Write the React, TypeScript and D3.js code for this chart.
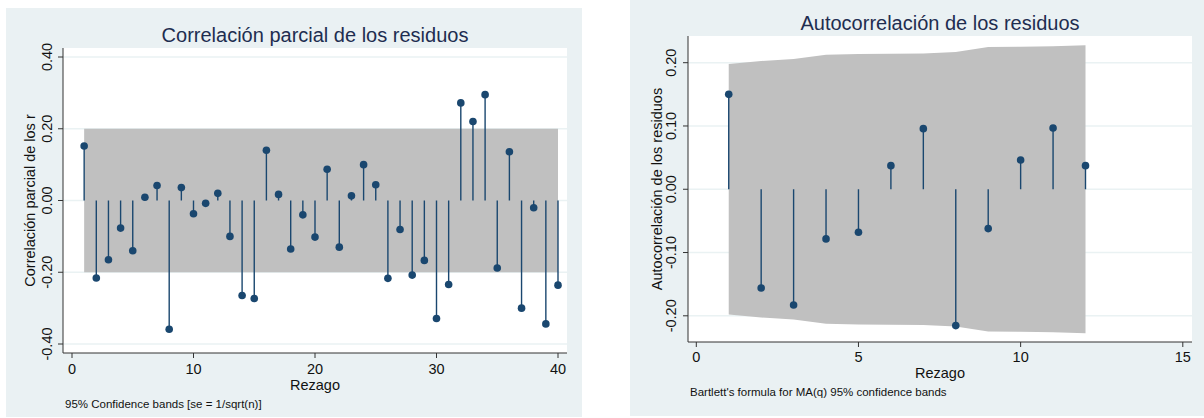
import React from "react";
import * as d3 from "d3";

// PACF of residuals, lags 1..40
const pacfLags = d3.range(1, 41);
const pacfValues = [
  0.152, -0.216, -0.165, -0.077, -0.14, 0.009, 0.042, -0.359, 0.036, -0.037,
  -0.008, 0.02, -0.1, -0.265, -0.273, 0.14, 0.017, -0.135, -0.04, -0.102,
  0.087, -0.13, 0.013, 0.1, 0.044, -0.217, -0.081, -0.208, -0.167, -0.329,
  -0.234, 0.272, 0.22, 0.295, -0.188, 0.136, -0.3, -0.02, -0.344, -0.236,
];
const pacfBand = 0.2;

// ACF of residuals, lags 1..12 with Bartlett bands
const acfLags = d3.range(1, 13);
const acfValues = [
  0.15, -0.156, -0.183, -0.0785, -0.068, 0.0373, 0.0958, -0.2155, -0.0622,
  0.0463, 0.0968, 0.0373,
];
const acfBand = [
  0.198, 0.2027, 0.206, 0.2127, 0.2137, 0.2142, 0.2147, 0.2169, 0.2248,
  0.2253, 0.226, 0.2275,
];

const pacfYTicks = [-0.4, -0.2, 0, 0.2, 0.4];
const pacfXTicks = [0, 10, 20, 30, 40];
const acfYTicks = [-0.2, -0.1, 0, 0.1, 0.2];
const acfXTicks = [0, 5, 10, 15];

const FONT = "'Liberation Sans', Arial, Helvetica, sans-serif";
const NAVY = "#1a476f";
const BG = "#eaf1f3";
const GRID = "#eaf2f3";
const BAND = "#c0c0c0";

const fmt = (v) => v.toFixed(2);

const Panel = ({
  box,
  plot,
  xScale,
  yScale,
  xTicks,
  yTicks,
  lags,
  values,
  band,
  title,
  titleY,
  yTitle,
  yTitleX,
  yTickX,
  xTickY,
  xTitleY,
  note,
  noteY,
}) => {
  const area = d3
    .area()
    .x((d) => xScale(d.lag))
    .y0((d) => yScale(-d.se))
    .y1((d) => yScale(d.se));
  const cx = (plot.x0 + plot.x1) / 2;
  const cy = (plot.y0 + plot.y1) / 2;
  const zero = yScale(0);

  return (
    <g fontFamily={FONT}>
      <rect x={box.x} y={box.y} width={box.w} height={box.h} fill={BG} />
      <rect
        x={plot.x0}
        y={plot.y0}
        width={plot.x1 - plot.x0}
        height={plot.y1 - plot.y0}
        fill="white"
      />
      {yTicks.map((t) => (
        <line
          key={t}
          x1={plot.x0}
          x2={plot.x1}
          y1={yScale(t)}
          y2={yScale(t)}
          stroke={GRID}
          strokeWidth={1.5}
        />
      ))}
      <path d={area(band)} fill={BAND} />
      {lags.map((lag, i) => (
        <g key={lag}>
          <line
            x1={xScale(lag)}
            x2={xScale(lag)}
            y1={zero}
            y2={yScale(values[i])}
            stroke={NAVY}
            strokeWidth={1.4}
          />
          <circle cx={xScale(lag)} cy={yScale(values[i])} r={3.8} fill={NAVY} />
        </g>
      ))}
      {/* axes */}
      <line x1={plot.x0} x2={plot.x0} y1={plot.y0} y2={plot.y1} stroke="#333" strokeWidth={1} />
      <line x1={plot.x0} x2={plot.x1} y1={plot.y1} y2={plot.y1} stroke="#333" strokeWidth={1} />
      {yTicks.map((t) => (
        <g key={t}>
          <line
            x1={plot.x0 - 5}
            x2={plot.x0}
            y1={yScale(t)}
            y2={yScale(t)}
            stroke="#333"
          />
          <text
            transform={`translate(${yTickX},${yScale(t)}) rotate(-90)`}
            textAnchor="middle"
            fontSize={14.5}
            fill="#111"
          >
            {fmt(t)}
          </text>
        </g>
      ))}
      {xTicks.map((t) => (
        <g key={t}>
          <line
            x1={xScale(t)}
            x2={xScale(t)}
            y1={plot.y1}
            y2={plot.y1 + 5}
            stroke="#333"
          />
          <text x={xScale(t)} y={xTickY} textAnchor="middle" fontSize={14.5} fill="#111">
            {t}
          </text>
        </g>
      ))}
      <text x={cx} y={titleY} textAnchor="middle" fontSize={20} fill="#1e2d50">
        {title}
      </text>
      <text
        transform={`translate(${yTitleX},${cy}) rotate(-90)`}
        textAnchor="middle"
        fontSize={14.5}
        fill="#111"
      >
        {yTitle}
      </text>
      <text x={cx} y={xTitleY} textAnchor="middle" fontSize={14.5} fill="#111">
        Rezago
      </text>
      <text x={plot.x0 + 2} y={noteY} fontSize={11.5} fill="#111">
        {note}
      </text>
    </g>
  );
};

export default function App() {
  const leftX = d3.scaleLinear().domain([0, 40]).range([72, 558]);
  const leftY = d3.scaleLinear().domain([-0.4, 0.4]).range([344, 57]);
  const rightX = d3.scaleLinear().domain([0, 15]).range([696.3, 1182.8]);
  const rightY = d3.scaleLinear().domain([-0.2, 0.2]).range([315.8, 62.7]);

  const leftBand = [
    { lag: pacfLags[0], se: pacfBand },
    { lag: pacfLags[pacfLags.length - 1], se: pacfBand },
  ];
  const rightBand = acfLags.map((lag, i) => ({ lag, se: acfBand[i] }));

  return (
    <svg
      width={1204}
      height={418}
      style={{ position: "absolute", left: 0, top: 0, display: "block" }}
    >
      <rect width={1204} height={418} fill="white" />
      <Panel
        box={{ x: 6, y: 8, w: 576, h: 409 }}
        plot={{ x0: 63, x1: 567, y0: 48, y1: 353 }}
        xScale={leftX}
        yScale={leftY}
        xTicks={pacfXTicks}
        yTicks={pacfYTicks}
        lags={pacfLags}
        values={pacfValues}
        band={leftBand}
        title="Correlación parcial de los residuos"
        titleY={42}
        yTitle="Correlación parcial de los r"
        yTitleX={35}
        yTickX={52}
        xTickY={374}
        xTitleY={390}
        note="95% Confidence bands [se = 1/sqrt(n)]"
        noteY={408}
      />
      <Panel
        box={{ x: 630, y: 0, w: 574, h: 416 }}
        plot={{ x0: 688, x1: 1192, y0: 36, y1: 342 }}
        xScale={rightX}
        yScale={rightY}
        xTicks={acfXTicks}
        yTicks={acfYTicks}
        lags={acfLags}
        values={acfValues}
        band={rightBand}
        title="Autocorrelación de los residuos"
        titleY={30}
        yTitle="Autocorrelación de los residuos"
        yTitleX={662}
        yTickX={676}
        xTickY={362}
        xTitleY={378}
        note="Bartlett's formula for MA(q) 95% confidence bands"
        noteY={396}
      />
    </svg>
  );
}
